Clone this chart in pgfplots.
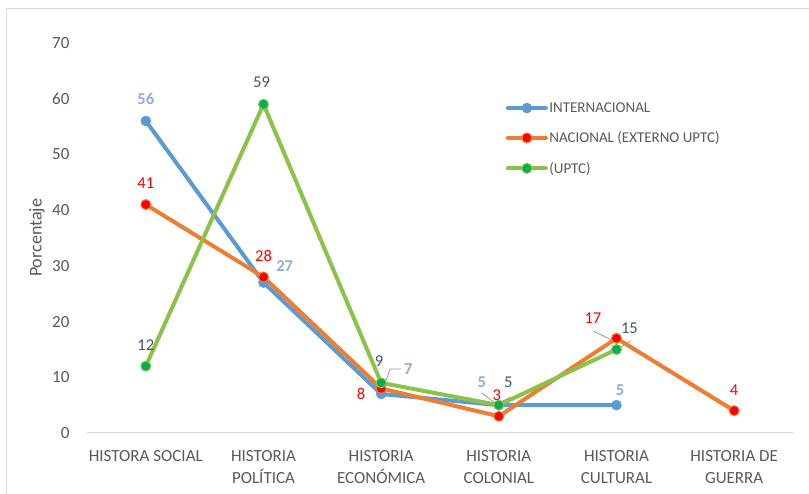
\documentclass[border=0pt]{standalone}
\usepackage{fontspec}
\setmainfont{Carlito}
\usepackage{pgfplots}
\pgfplotsset{compat=1.18}
\usetikzlibrary{calc}
\definecolor{cblue}{HTML}{5B9BD5}
\definecolor{corange}{HTML}{ED7D31}
\definecolor{cgreen}{HTML}{8BC34A}
\definecolor{cgreenm}{HTML}{00B050}
\definecolor{cred}{HTML}{FF0000}
\definecolor{lblue}{HTML}{8FAADC}
\definecolor{ldark}{HTML}{44546A}
\definecolor{txt}{HTML}{595959}
\definecolor{axl}{HTML}{D9D9D9}
\begin{document}
\begin{tikzpicture}[x=1pt,y=1pt]
\begin{axis}[
  scale only axis, width=706pt, height=390pt,
  xmin=-0.5, xmax=5.5, ymin=0, ymax=70,
  axis x line*=bottom, axis y line*=left,
  x axis line style={axl, line width=1pt},
  y axis line style={draw=none},
  major tick length=0pt,
  /pgf/number format/assume math mode=true,
  xtick={0,1,2,3,4,5},
  xticklabels={HISTORA SOCIAL,{HISTORIA\\POLÍTICA},{HISTORIA\\ECONÓMICA},{HISTORIA\\COLONIAL},{HISTORIA\\CULTURAL},{HISTORIA DE\\GUERRA}},
  xticklabel style={align=center, font=\fontsize{17}{21.5}\selectfont, text=txt, anchor=north, yshift=-14pt},
  ytick={0,10,...,70},
  yticklabel style={font=\fontsize{17}{20}\selectfont, text=txt, anchor=east, xshift=-14pt},
  ylabel={Porcentaje},
  ylabel style={font=\fontsize{18}{20}\selectfont, text=txt, at={(axis description cs:-0.0708,0.5)}, anchor=center, rotate=0},
  clip=false,
  legend cell align=left,
  legend style={at={(0.593,0.852)}, anchor=north west, draw=none, fill=none, inner sep=0pt,
    font=\fontsize{15}{18}\selectfont, text=txt, row sep=15pt, nodes={inner sep=1.5pt}},
  legend image code/.code={
    \draw[#1, mark=none, line width=4pt, line cap=round] (0pt,0pt) -- (38pt,0pt);
    \draw[#1, only marks] plot coordinates {(19pt,0pt)};
  },
]
\coordinate (bl) at (axis cs:-0.5,0);
\addplot[cblue, line width=4pt, mark=*, mark size=5pt, mark options={fill=cblue, draw=cblue, line width=0.5pt}]
  coordinates {(0,56) (1,27) (2,7) (3,5) (4,5)};
\addlegendentry{INTERNACIONAL}
\addplot[corange, line width=4pt, mark=*, mark size=5pt, mark options={fill=cred, draw=corange, line width=1pt}]
  coordinates {(0,41) (1,28) (2,8) (3,3) (4,17) (5,4)};
\addlegendentry{NACIONAL (EXTERNO UPTC)}
\addplot[cgreen, line width=4pt, mark=*, mark size=5pt, mark options={fill=cgreenm, draw=cgreen, line width=1pt}]
  coordinates {(0,12) (1,59) (2,9) (3,5) (4,15)};
\addlegendentry{(UPTC)}
% leader lines
\draw[gray!80, line width=0.8pt] (axis cs:2.034,8.97) -- (axis cs:2.076,11.49) -- (axis cs:2.17,11.49);
\draw[gray!80, line width=0.8pt] (axis cs:2.856,7.18) -- (axis cs:2.966,5.39);
\draw[gray!80, line width=0.8pt] (axis cs:3.102,6.46) -- (axis cs:3.0,5.39);
\draw[gray!80, line width=0.8pt] (axis cs:3.80,18.31) -- (axis cs:3.96,16.7);
\draw[gray!80, line width=0.8pt] (axis cs:4.12,16.52) -- (axis cs:4.0,14.9);
% data labels
\begin{scope}[every node/.style={font=\fontsize{16.5}{20}\selectfont, inner sep=0pt, anchor=center}]
\node[text=lblue, font=\fontsize{16.5}{20}\selectfont\bfseries] at (axis cs:0,59.95) {56};
\node[text=lblue, font=\fontsize{16.5}{20}\selectfont\bfseries] at (axis cs:1.18,30.0) {27};
\node[text=lblue, font=\fontsize{16.5}{20}\selectfont\bfseries] at (axis cs:2.23,11.5) {7};
\node[text=lblue, font=\fontsize{16.5}{20}\selectfont\bfseries] at (axis cs:2.856,9.15) {5};
\node[text=lblue, font=\fontsize{16.5}{20}\selectfont\bfseries] at (axis cs:4.03,7.7) {5};
\node[text=cred] at (axis cs:0,44.9) {41};
\node[text=cred] at (axis cs:1,31.8) {28};
\node[text=cred] at (axis cs:1.83,7.0) {8};
\node[text=cred] at (axis cs:2.983,6.8) {3};
\node[text=cred] at (axis cs:3.80,20.6) {17};
\node[text=cred] at (axis cs:5,7.7) {4};
\node[text=ldark] at (axis cs:0,15.8) {12};
\node[text=ldark] at (axis cs:0.983,63.0) {59};
\node[text=ldark] at (axis cs:1.983,12.9) {9};
\node[text=ldark] at (axis cs:3.08,9.15) {5};
\node[text=ldark] at (axis cs:4.11,18.85) {15};
\end{scope}
\end{axis}
\draw[axl, line width=1pt] ($(bl)+(-80,-70)$) -- ($(bl)+(-80,424)$) -- ($(bl)+(730,424)$);
\pgfresetboundingbox
\path[use as bounding box] ($(bl)+(-87,-61)$) rectangle ($(bl)+(722,433)$);
\end{tikzpicture}
\end{document}
